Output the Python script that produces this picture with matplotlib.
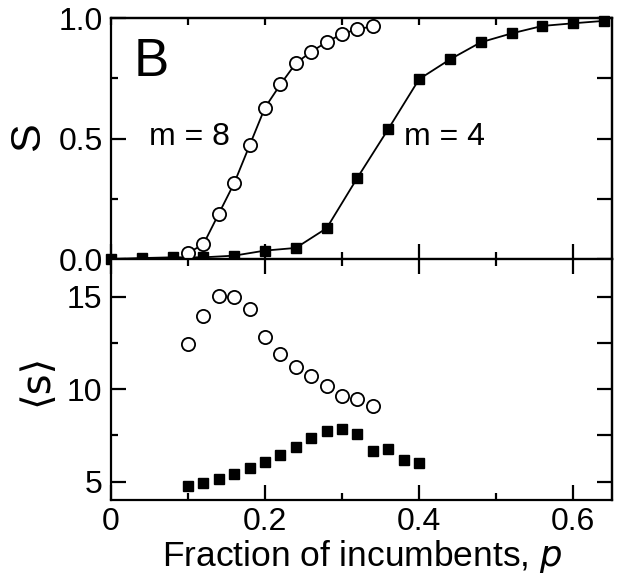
import matplotlib
matplotlib.use("Agg")
import matplotlib.pyplot as plt
from matplotlib.ticker import FixedLocator, NullFormatter

plt.rcParams['font.family'] = ['Liberation Sans', 'DejaVu Sans']

# top panel: S vs p
p_m4 = [0.00, 0.04, 0.08, 0.12, 0.16, 0.20, 0.24, 0.28, 0.32, 0.36, 0.40,
        0.44, 0.48, 0.52, 0.56, 0.60, 0.64]
S_m4 = [0.000, 0.004, 0.007, 0.007, 0.014, 0.035, 0.046, 0.128, 0.338, 0.540,
        0.747, 0.829, 0.900, 0.937, 0.968, 0.979, 0.989]
p_m8 = [0.10, 0.12, 0.14, 0.16, 0.18, 0.20, 0.22, 0.24, 0.26, 0.28, 0.30, 0.32, 0.34]
S_m8 = [0.025, 0.061, 0.188, 0.315, 0.472, 0.629, 0.725, 0.813, 0.861, 0.901,
        0.935, 0.954, 0.967]

# bottom panel: <s> vs p
ps_m8 = [0.10, 0.12, 0.14, 0.16, 0.18, 0.20, 0.22, 0.24, 0.26, 0.28, 0.30, 0.32, 0.34]
s_m8 = [12.45, 13.99, 15.02, 14.98, 14.35, 12.82, 11.91, 11.21, 10.69, 10.18,
        9.64, 9.49, 9.08]
ps_m4 = [0.10, 0.12, 0.14, 0.16, 0.18, 0.20, 0.22, 0.24, 0.26, 0.28, 0.30, 0.32,
         0.34, 0.36, 0.38, 0.40]
s_m4 = [4.73, 4.93, 5.13, 5.43, 5.72, 6.08, 6.43, 6.88, 7.33, 7.74, 7.82, 7.55,
        6.66, 6.75, 6.16, 6.01]

x_major = [0, 0.2, 0.4, 0.6]
x_minor = [0.1, 0.3, 0.5]
x_labels = ['0', '0.2', '0.4', '0.6']
y1_major = [0, 0.5, 1.0]
y1_minor = [0.25, 0.75]
y1_labels = ['0.0', '0.5', '1.0']
y2_major = [5, 10, 15]
y2_minor = [7.5, 12.5]

fig = plt.figure(figsize=(6.23, 5.88), dpi=100)
L, R = 0.178, 0.982
ax1 = fig.add_axes([L, 0.5595, R - L, 0.969 - 0.5595])
ax2 = fig.add_axes([L, 0.1497, R - L, 0.5595 - 0.1497])

ax1.plot(p_m4, S_m4, '-', color='black', lw=1.3, marker='s', ms=7.8,
         mfc='black', mec='black', zorder=3, clip_on=False)
ax1.plot(p_m8, S_m8, '-', color='black', lw=1.3, marker='o', ms=9.5,
         mfc='white', mec='black', mew=1.3, zorder=4, clip_on=False)

ax2.plot(ps_m8, s_m8, 'o', ms=9.5, mfc='white', mec='black', mew=1.3, clip_on=False)
ax2.plot(ps_m4, s_m4, 's', ms=7.8, mfc='black', mec='black', clip_on=False)

TW = 1.6
for ax in (ax1, ax2):
    ax.set_xlim(0, 0.65)
    ax.xaxis.set_major_locator(FixedLocator(x_major))
    ax.xaxis.set_minor_locator(FixedLocator(x_minor))
    for s in ax.spines.values():
        s.set_linewidth(TW)
    ax.tick_params(which='both', direction='in', top=False, right=False,
                   width=TW, labelsize=23, colors='black')
    ax.tick_params(which='major', length=11, pad=6)
    ax.tick_params(which='minor', length=5)

ax1.set_ylim(0, 1.0)
ax1.yaxis.set_major_locator(FixedLocator(y1_major))
ax1.yaxis.set_minor_locator(FixedLocator(y1_minor))
ax1.set_yticklabels(y1_labels)
ax1.tick_params(labelbottom=False)

ax2.set_ylim(4, 17.05)
ax2.yaxis.set_major_locator(FixedLocator(y2_major))
ax2.yaxis.set_minor_locator(FixedLocator(y2_minor))
ax2.set_xticklabels(x_labels)
ax2.tick_params(axis='x', pad=5)

# right side ticks: all long
for ax, ymaj, ymin in ((ax1, y1_major, y1_minor), (ax2, y2_major, y2_minor)):
    sec = ax.secondary_yaxis('right')
    sec.yaxis.set_major_locator(FixedLocator(ymaj + ymin))
    sec.yaxis.set_major_formatter(NullFormatter())
    sec.tick_params(which='major', direction='in', length=11, width=TW)
    sec.spines['right'].set_linewidth(TW)

# top of upper panel: all short; top of lower panel: standard
sec = ax1.secondary_xaxis('top')
sec.xaxis.set_major_locator(FixedLocator(x_major + x_minor))
sec.xaxis.set_major_formatter(NullFormatter())
sec.tick_params(which='major', direction='in', length=5, width=TW)
sec.spines['top'].set_linewidth(TW)

sec2 = ax2.secondary_xaxis('top')
sec2.xaxis.set_major_locator(FixedLocator(x_major))
sec2.xaxis.set_minor_locator(FixedLocator(x_minor))
sec2.xaxis.set_major_formatter(NullFormatter())
sec2.tick_params(which='major', direction='in', length=11, width=TW)
sec2.tick_params(which='minor', direction='in', length=5, width=TW)

ax1.text(0.029, 0.817, 'B', fontsize=38, ha='left', va='center')
ax1.text(0.049, 0.508, 'm = 8', fontsize=23, ha='left', va='center')
ax1.text(0.380, 0.508, 'm = 4', fontsize=23, ha='left', va='center')

fig.text(28 / 623, 1 - 137 / 588, 'S', fontsize=31, rotation=90,
         ha='center', va='center')
fig.text(36 / 623, 1 - 380 / 588, '\u27e8s\u27e9', fontsize=29, rotation=90,
         ha='center', va='center', family=['DejaVu Sans'])
fig.text(362 / 623, 1 - 566 / 588, 'Fraction of incumbents, $\\mathit{p}$',
         fontsize=25.5, ha='center', va='baseline')

fig.savefig('out.png', dpi=100)
